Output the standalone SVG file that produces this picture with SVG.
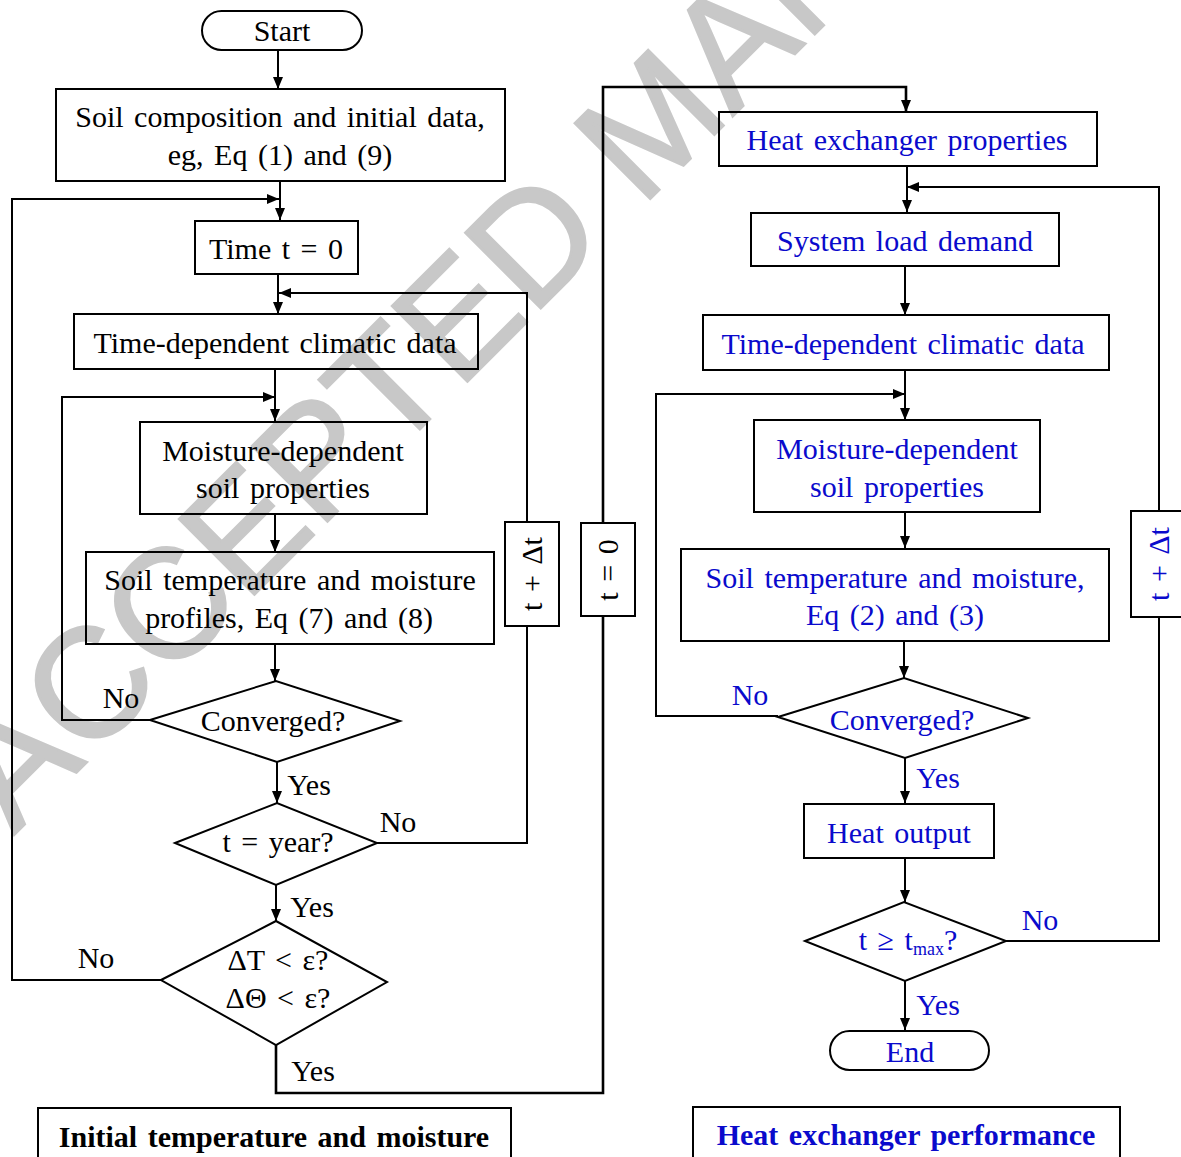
<svg xmlns="http://www.w3.org/2000/svg" width="1181" height="1157" viewBox="0 0 1181 1157">
<style>
text{font-family:"Liberation Serif","Times New Roman",serif;font-size:30px;text-anchor:middle;word-spacing:3px}
.k{fill:#000}
.b{fill:#0a0acc}
.bold{font-weight:bold}
.box{fill:none;stroke:#000;stroke-width:2}
.ln{fill:none;stroke:#000;stroke-width:2}
.thick{stroke-width:2.6}
.wm{font-family:"Liberation Sans",Arial,sans-serif;font-size:155px;fill:#c8c8c8;stroke:#c8c8c8;stroke-width:2.5;text-anchor:start;word-spacing:0}
</style>
<defs>
<marker id="ah" markerUnits="userSpaceOnUse" markerWidth="12" markerHeight="10" refX="12" refY="5" orient="auto">
<path d="M0,0 L12,5 L0,10 z" fill="#000"/>
</marker>
</defs>
<rect width="1181" height="1157" fill="#fff"/>
<text class="wm" transform="translate(14,835) rotate(-45)">ACCEPTED MANUSCRIPT</text>

<g id="connectors">
<path class="ln" d="M278,50 V89" marker-end="url(#ah)"/>
<path class="ln" d="M280,181 V220" marker-end="url(#ah)"/>
<path class="ln" d="M161,980 H12 V199 H279" marker-end="url(#ah)"/>
<path class="ln" d="M278,274 V314" marker-end="url(#ah)"/>
<path class="ln" d="M377,843 H527 V293 H279" marker-end="url(#ah)"/>
<path class="ln" d="M275,369 V421" marker-end="url(#ah)"/>
<path class="ln" d="M150,720 H62 V397 H275" marker-end="url(#ah)"/>
<path class="ln" d="M275,514 V552" marker-end="url(#ah)"/>
<path class="ln" d="M275,644 V681" marker-end="url(#ah)"/>
<path class="ln" d="M277,762 V803" marker-end="url(#ah)"/>
<path class="ln" d="M276,885 V921" marker-end="url(#ah)"/>
<path class="ln thick" d="M276,1045 V1093 H603 V87 H906 V112" marker-end="url(#ah)"/>
<path class="ln" d="M907,166 V212" marker-end="url(#ah)"/>
<path class="ln" d="M1006,941 H1159 V187 H907" marker-end="url(#ah)"/>
<path class="ln" d="M905,266 V315" marker-end="url(#ah)"/>
<path class="ln" d="M905,370 V420" marker-end="url(#ah)"/>
<path class="ln" d="M778,716 H656 V394 H905" marker-end="url(#ah)"/>
<path class="ln" d="M905,512 V548" marker-end="url(#ah)"/>
<path class="ln" d="M904,641 V678" marker-end="url(#ah)"/>
<path class="ln" d="M905,758 V803" marker-end="url(#ah)"/>
<path class="ln" d="M905,858 V902" marker-end="url(#ah)"/>
<path class="ln" d="M905,981 V1030" marker-end="url(#ah)"/>
</g>

<g id="lbl-tdt-left">
<rect x="505" y="522" width="54" height="104" fill="#fff" stroke="#000" stroke-width="2"/>
<text class="k" transform="translate(542,574) rotate(-90)">t + Δt</text>
</g>
<g id="lbl-t0">
<rect x="581" y="523" width="54" height="93" fill="#fff" stroke="#000" stroke-width="2"/>
<text class="k" transform="translate(618,570) rotate(-90)">t = 0</text>
</g>
<g id="lbl-tdt-right">
<rect x="1131" y="511" width="56" height="106" fill="#fff" stroke="#000" stroke-width="2"/>
<text class="b" transform="translate(1169,564) rotate(-90)">t + Δt</text>
</g>

<g id="start">
<rect class="box" x="202" y="11" width="160" height="39" rx="19.5"/>
<text class="k" x="282" y="41">Start</text>
</g>
<g id="soil-composition">
<rect class="box" x="56" y="89" width="449" height="92"/>
<text class="k" x="280" y="127">Soil composition  and initial data,</text>
<text class="k" x="280" y="165">eg, Eq (1) and (9)</text>
</g>
<g id="time0">
<rect class="box" x="195" y="221" width="163" height="53"/>
<text class="k" x="276" y="259">Time t = 0</text>
</g>
<g id="climatic-left">
<rect class="box" x="74" y="314" width="404" height="55"/>
<text class="k" x="275" y="353">Time-dependent climatic data</text>
</g>
<g id="moisture-left">
<rect class="box" x="140" y="422" width="287" height="92"/>
<text class="k" x="283" y="461">Moisture-dependent</text>
<text class="k" x="283" y="498">soil properties</text>
</g>
<g id="profiles-left">
<rect class="box" x="86" y="552" width="408" height="92"/>
<text class="k" x="290" y="590">Soil temperature  and moisture</text>
<text class="k" x="289" y="628">profiles, Eq (7) and (8)</text>
</g>
<g id="converged-left">
<polygon class="box" points="150,720 276,681 400,721 277,762"/>
<text class="k" x="273" y="731">Converged?</text>
<text class="k" x="121" y="708">No</text>
<text class="k" x="309" y="795">Yes</text>
</g>
<g id="year">
<polygon class="box" points="175,843 277,803 377,843 276,885"/>
<text class="k" x="278" y="852">t = year?</text>
<text class="k" x="398" y="832">No</text>
<text class="k" x="312" y="917">Yes</text>
</g>
<g id="delta">
<polygon class="box" points="161,980 276,921 387,982 276,1045"/>
<text class="k" x="278" y="970">ΔT &lt; ε?</text>
<text class="k" x="278" y="1008">ΔΘ &lt; ε?</text>
<text class="k" x="96" y="968">No</text>
<text class="k" x="313" y="1081">Yes</text>
</g>
<g id="title-left">
<path class="box" d="M38,1157 V1108 H511 V1157"/>
<text class="k bold" x="274" y="1147">Initial temperature  and moisture</text>
</g>

<g id="hx-props">
<rect class="box" x="719" y="112" width="378" height="54"/>
<text class="b" x="907" y="150">Heat exchanger properties</text>
</g>
<g id="load">
<rect class="box" x="751" y="213" width="308" height="53"/>
<text class="b" x="905" y="251">System load demand</text>
</g>
<g id="climatic-right">
<rect class="box" x="703" y="315" width="406" height="55"/>
<text class="b" x="903" y="354">Time-dependent climatic data</text>
</g>
<g id="moisture-right">
<rect class="box" x="754" y="420" width="286" height="92"/>
<text class="b" x="897" y="459">Moisture-dependent</text>
<text class="b" x="897" y="497">soil properties</text>
</g>
<g id="profiles-right">
<rect class="box" x="681" y="549" width="428" height="92"/>
<text class="b" x="895" y="588">Soil temperature  and moisture,</text>
<text class="b" x="895" y="625">Eq (2) and (3)</text>
</g>
<g id="converged-right">
<polygon class="box" points="778,717 904,678 1028,718 905,758"/>
<text class="b" x="902" y="730">Converged?</text>
<text class="b" x="750" y="705">No</text>
<text class="b" x="938" y="788">Yes</text>
</g>
<g id="heat-output">
<rect class="box" x="804" y="804" width="190" height="54"/>
<text class="b" x="899" y="843">Heat output</text>
</g>
<g id="tmax">
<polygon class="box" points="805,941 904,902 1006,941 905,981"/>
<text class="b" x="908" y="950">t ≥ t<tspan font-size="18" dy="5">max</tspan><tspan dy="-5">?</tspan></text>
<text class="b" x="1040" y="930">No</text>
<text class="b" x="938" y="1015">Yes</text>
</g>
<g id="end">
<rect class="box" x="830" y="1031" width="159" height="39" rx="19.5"/>
<text class="b" x="910" y="1062">End</text>
</g>
<g id="title-right">
<path class="box" d="M693,1157 V1107 H1120 V1157"/>
<text class="b bold" x="906" y="1145">Heat exchanger performance</text>
</g>
</svg>
